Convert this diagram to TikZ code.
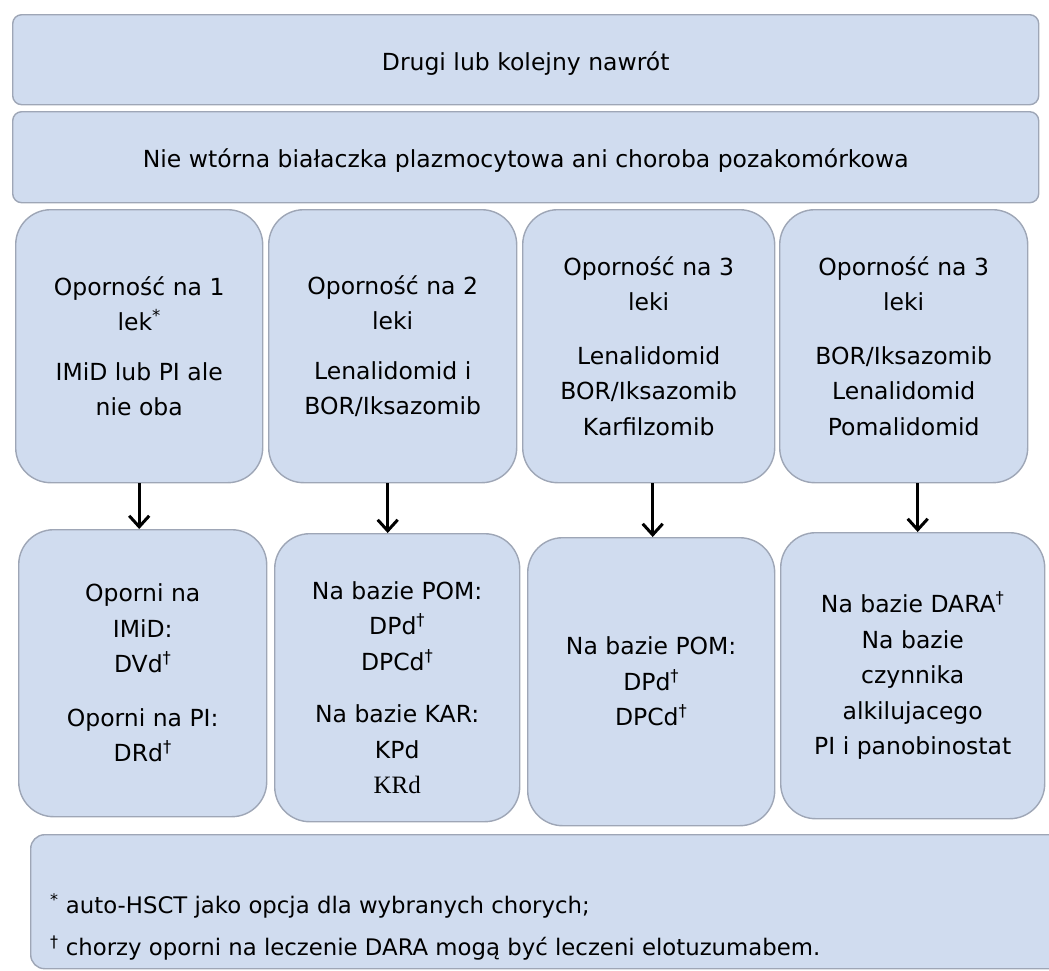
\documentclass[tikz,border=0pt]{standalone}
\usepackage{fontspec}
\setmainfont{DejaVu Sans}
\newfontfamily\serifkr{Liberation Serif}
\usetikzlibrary{arrows.meta}
\definecolor{boxfill}{RGB}{208,220,239}
\definecolor{boxline}{RGB}{158,166,182}
\begin{document}
\begin{tikzpicture}[x=1pt,y=-1pt,
  base/.style={draw=boxline, fill=boxfill, line width=1.4pt, anchor=north west, inner sep=0pt},
  wide/.style={base, rounded corners=9pt},
  col/.style={base, rounded corners=35pt},
  foot/.style={base, rounded corners=14pt},
  txt/.style={align=center, font=\fontsize{23.5}{35.5}\selectfont, inner sep=0pt},
  ftxt/.style={align=left, anchor=west, font=\fontsize{22.8}{26}\selectfont, inner sep=0pt},
  arr/.style={line width=3pt, -{Straight Barb[length=11pt,width=20pt,line width=3pt]}}]
\useasboundingbox (0,0) rectangle (1049,970);
% top boxes
\node[wide, minimum width=1026pt, minimum height=90pt] (top) at (12,14) {};
\node[txt] (ttop) at ([yshift=-4pt]top.center) {Drugi lub kolejny nawrót};
\node[wide, minimum width=1026pt, minimum height=91pt] (sec) at (12,111) {};
\node[txt] (tsec) at ([yshift=-3pt]sec.center) {Nie wtórna białaczka plazmocytowa ani choroba pozakomórkowa};
% middle row
\node[col, minimum width=247pt, minimum height=273pt] (m1) at (15,209) {};
\node[col, minimum width=248pt, minimum height=273pt] (m2) at (268,209) {};
\node[col, minimum width=252pt, minimum height=273pt] (m3) at (522,209) {};
\node[col, minimum width=248pt, minimum height=273pt] (m4) at (779,209) {};
\node[txt] (tm1) at (m1.center) {Oporność na 1\\lek\textsuperscript{*}\\[14pt]IMiD lub PI ale\\nie oba};
\node[txt] (tm2) at (m2.center) {Oporność na 2\\leki\\[14pt]Lenalidomid i\\BOR/Iksazomib};
\node[txt] (tm3) at (m3.center) {Oporność na 3\\leki\\[18pt]Lenalidomid\\BOR/Iksazomib\\Karfilzomib};
\node[txt] (tm4) at (m4.center) {Oporność na 3\\leki\\[18pt]BOR/Iksazomib\\Lenalidomid\\Pomalidomid};
% bottom row
\node[col, minimum width=248pt, minimum height=287pt] (b1) at (18,529) {};
\node[col, minimum width=245pt, minimum height=288pt] (b2) at (274,533) {};
\node[col, minimum width=247pt, minimum height=288pt] (b3) at (527,537) {};
\node[col, minimum width=264pt, minimum height=286pt] (b4) at (780,532) {};
\node[txt] (tb1) at (b1.center) {Oporni na\\IMiD:\\DVd\textsuperscript{†}\\[18pt]Oporni na PI:\\DRd\textsuperscript{†}};
\node[txt] (tb2) at ([yshift=-10pt]b2.center) {Na bazie POM:\\DPd\textsuperscript{†}\\DPCd\textsuperscript{†}\\[17pt]Na bazie KAR:\\KPd\\{\serifkr\fontsize{25}{35.5}\selectfont KRd}};
\node[txt] (tb3) at (b3.center) {Na bazie POM:\\DPd\textsuperscript{†}\\DPCd\textsuperscript{†}};
\node[txt] (tb4) at (b4.center) {Na bazie DARA\textsuperscript{†}\\Na bazie\\czynnika\\alkilujacego\\PI i panobinostat};
% arrows
\draw[arr] (m1.south) -- (m1.south |- b1.north);
\draw[arr] ([xshift=-5pt]m2.south) -- ([xshift=-5pt]m2.south |- b2.north);
\draw[arr] ([xshift=4pt]m3.south) -- ([xshift=4pt]m3.south |- b3.north);
\draw[arr] ([xshift=14pt]m4.south) -- ([xshift=14pt]m4.south |- b4.north);
% footnote
\node[foot, minimum width=1040pt, minimum height=134pt] (fn) at (30,834) {};
\node[ftxt] (f1) at (50,906) {\textsuperscript{*} auto-HSCT jako opcja dla wybranych chorych;};
\node[ftxt] (f2) at (50,948) {\textsuperscript{†} chorzy oporni na leczenie DARA mogą być leczeni elotuzumabem.};
\end{tikzpicture}
\end{document}
